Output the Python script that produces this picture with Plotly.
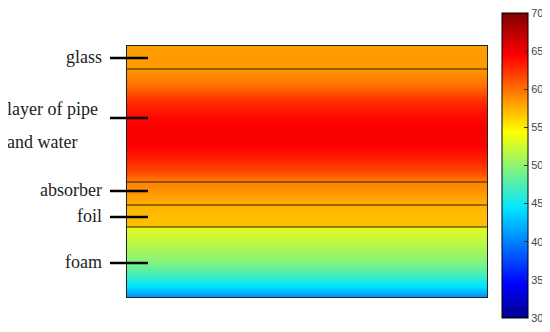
import plotly.graph_objects as go

# depth down the collector section (px-like units, 0 = top of glass)
depth = [0, 23, 39, 54, 69, 84, 99, 114, 126, 136, 148, 159, 170, 180, 182, 199, 216, 230, 241, 251]
temp = [58.2, 58.4, 60.0, 62.5, 64.0, 64.8, 64.5, 63.0, 61.5, 59.3, 58.4, 57.4, 57.0, 56.8,
        53.2, 51.5, 49.5, 46.8, 44.0, 40.5]

layer_bounds = [23, 136, 159, 181]
labels = ["glass", "absorber", "foil", "foam"]
label_depth = [11, 144, 170, 216]
pipe_label_depth = 63
water_label_depth = 96

jet = [[0.0, "rgb(0,0,140)"], [0.11, "rgb(0,0,255)"], [0.36, "rgb(0,230,255)"],
       [0.61, "rgb(255,255,0)"], [0.86, "rgb(255,0,0)"], [1.0, "rgb(128,0,0)"]]

# page body has an 8px margin, so work in page pixels minus 8
OFF = 8
W, H = 550 - OFF, 332 - OFF
L, R, T, B = 127 - OFF, 487 - OFF, 46 - OFF, 297 - OFF
pw = R - L

fig = go.Figure()
fig.add_trace(go.Heatmap(
    x=[0, 1], y=depth, z=[[t, t] for t in temp],
    zmin=30, zmax=70, zsmooth="best", colorscale=jet,
    colorbar=dict(
        lenmode="pixels", len=305, thickness=26,
        x=(502 - OFF - L) / pw, xanchor="left", xpad=0,
        y=(B - (165.5 - OFF)) / (B - T), yanchor="middle", ypad=0,
        outlinecolor="black", outlinewidth=1,
        tickvals=[30, 35, 40, 45, 50, 55, 60, 65, 70],
        ticks="inside", ticklen=4, tickcolor="#333",
        ticklabeloverflow="allow",
        tickfont=dict(family="Liberation Sans", size=11, color="#444"),
    ),
))

def px_to_paper_x(px):
    return (px - OFF - L) / pw

for d in layer_bounds:
    fig.add_shape(type="line", xref="paper", yref="y", x0=0, x1=1, y0=d, y1=d,
                  line=dict(color="#2a2218", width=1.2))

font = dict(family="Liberation Serif", size=18, color="#222")
for txt, d in zip(labels, label_depth):
    fig.add_annotation(text=txt, xref="paper", yref="y", x=px_to_paper_x(104), y=d,
                       xanchor="right", yanchor="middle", showarrow=False, font=font)
    fig.add_shape(type="line", xref="paper", yref="y", x0=px_to_paper_x(110), x1=px_to_paper_x(148),
                  y0=d + 1, y1=d + 1, line=dict(color="black", width=2.5))

fig.add_annotation(text="layer of pipe", xref="paper", yref="y", x=px_to_paper_x(5), y=pipe_label_depth,
                   xanchor="left", yanchor="middle", showarrow=False, font=font)
fig.add_annotation(text="and water", xref="paper", yref="y", x=px_to_paper_x(5), y=water_label_depth,
                   xanchor="left", yanchor="middle", showarrow=False, font=font)
fig.add_shape(type="line", xref="paper", yref="y", x0=px_to_paper_x(110), x1=px_to_paper_x(148),
              y0=72, y1=72, line=dict(color="black", width=2.5))

fig.update_xaxes(range=[0, 1], showticklabels=False, ticks="", showgrid=False, zeroline=False,
                 showline=True, linecolor="#222", linewidth=1, mirror=True)
fig.update_yaxes(range=[251, 0], showticklabels=False, ticks="", showgrid=False, zeroline=False,
                 showline=True, linecolor="#222", linewidth=1, mirror=True)

fig.update_layout(width=W, height=H,
                  margin=dict(l=L, r=W - R, t=T, b=H - B, autoexpand=False),
                  paper_bgcolor="white", plot_bgcolor="white", showlegend=False)

fig.write_html("out.html")
